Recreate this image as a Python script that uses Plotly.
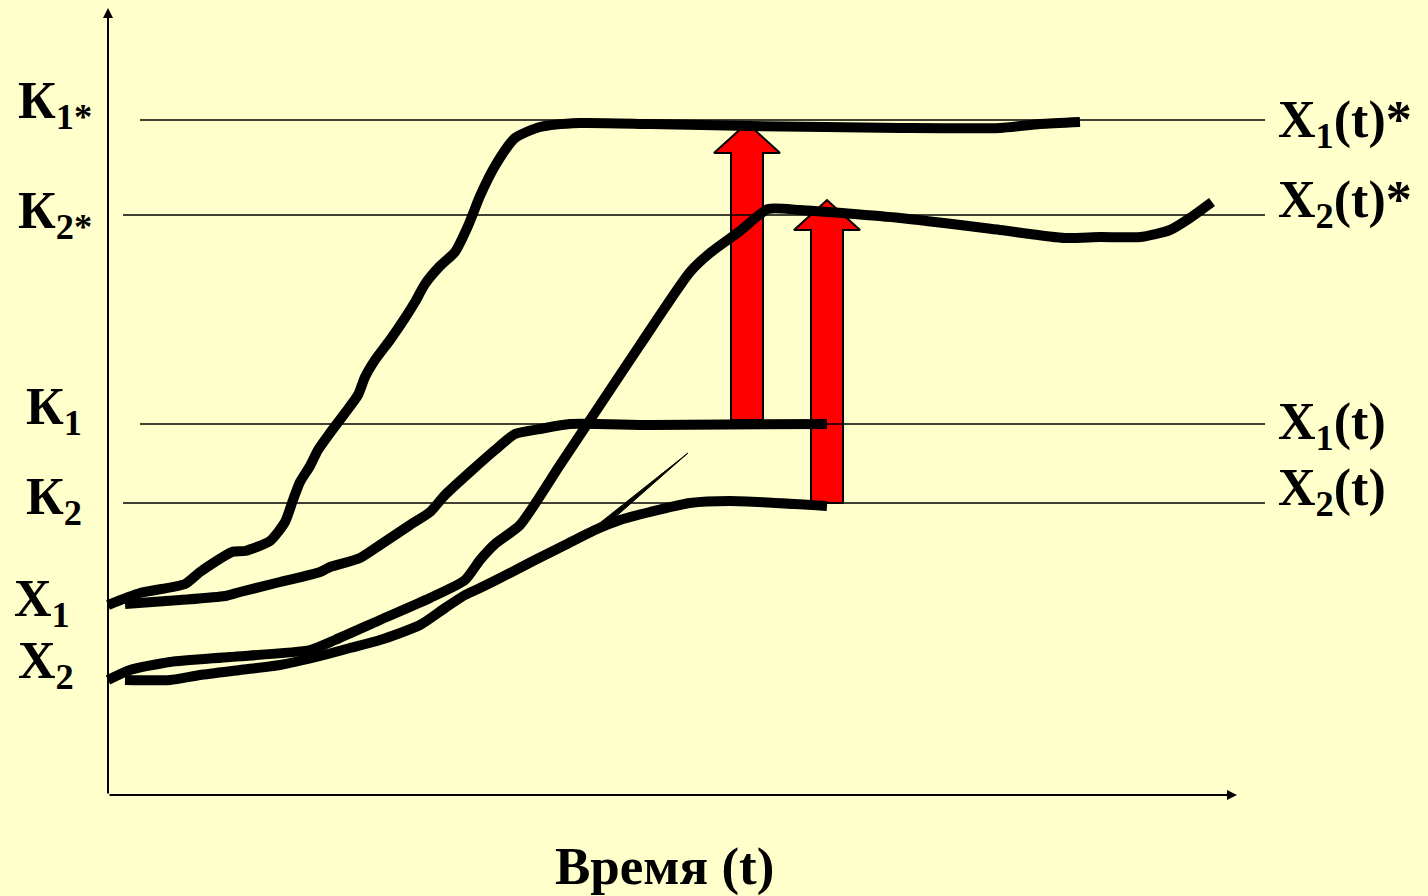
import plotly.graph_objects as go

# Coordinates in chart units (x: time, y: level; y axis reversed so 0 is top)
# Curve X1 -> X1(t)*
c1_x = [108, 140, 185, 200, 232, 245, 270, 285, 293, 300, 310, 318, 330, 345, 358, 365, 375, 390, 405, 415, 425, 440, 455, 468, 480, 495, 515, 540, 580, 650, 750, 900, 1000, 1040, 1080]
c1_y = [605, 593, 584, 572, 552, 551, 541, 522, 500, 482, 466, 450, 433, 413, 395, 377, 360, 340, 318, 302, 284, 266, 252, 226, 196, 166, 138, 127, 123, 124, 126, 128, 128, 124, 122]
# Curve X1 -> X1(t)
c2_x = [125, 180, 225, 240, 280, 320, 330, 360, 380, 410, 430, 445, 470, 495, 515, 540, 570, 650, 827]
c2_y = [604, 600, 596, 592, 582, 572, 567, 558, 545, 525, 512, 495, 472, 450, 434, 429, 424, 425, 424]
# Curve X2 -> X2(t)*
c3_x = [108, 130, 170, 230, 310, 335, 380, 430, 465, 480, 495, 520, 560, 600, 640, 690, 710, 740, 768, 800, 900, 1000, 1065, 1100, 1140, 1170, 1190, 1212]
c3_y = [680, 670, 662, 657, 650, 640, 620, 598, 580, 560, 544, 525, 465, 405, 345, 272, 253, 231, 209, 210, 218, 230, 238, 237, 237, 230, 218, 202]
# Curve X2 -> X2(t)
c4_x = [125, 170, 200, 240, 280, 320, 350, 380, 420, 445, 465, 480, 510, 535, 565, 595, 620, 650, 690, 730, 827]
c4_y = [680, 680, 675, 670, 665, 656, 648, 640, 625, 608, 595, 588, 573, 560, 545, 530, 520, 512, 503, 501, 506]
# Thin spike
spike_x = [596, 688, 612, 596]
spike_y = [526, 453, 520, 526]

# Reference levels
levels_y = [120, 215, 424, 503]
levels_x0 = [140, 123, 140, 123]
levels_x1 = [1265, 1265, 1265, 1265]
left_labels = ["К<sub>1*</sub>", "К<sub>2*</sub>", "К<sub>1</sub>", "К<sub>2</sub>", "X<sub>1</sub>", "X<sub>2</sub>"]
left_label_x = [16, 16, 24, 24, 12, 16]
left_label_y = [104, 214, 410, 500, 602, 664]
right_labels = ["X<sub>1</sub>(t)*", "X<sub>2</sub>(t)*", "X<sub>1</sub>(t)", "X<sub>2</sub>(t)"]
right_label_x = [1276, 1276, 1276, 1276]
right_label_y = [123, 203, 425, 491]

# Red arrows: centre x, base y, tip y
arrow_cx = [747, 827]
arrow_base = [420, 503]
arrow_tip = [123, 200]

x_title = "Время (t)"

BG = "#FFFFCC"
FONT = "Liberation Serif"

fig = go.Figure()

shaft_hw = 16
head_hw = 33
head_len = 30
for cx, b, t in zip(arrow_cx, arrow_base, arrow_tip):
    hy = t + head_len
    px = [cx - shaft_hw, cx - shaft_hw, cx - head_hw, cx, cx + head_hw, cx + shaft_hw, cx + shaft_hw, cx - shaft_hw]
    py = [b, hy, hy, t, hy, hy, b, b]
    fig.add_trace(go.Scatter(x=px, y=py, mode="lines", fill="toself", fillcolor="#FF0000",
                             line=dict(color="black", width=2), hoverinfo="skip"))

for ys, x0, x1 in zip(levels_y, levels_x0, levels_x1):
    fig.add_trace(go.Scatter(x=[x0, x1], y=[ys, ys], mode="lines",
                             line=dict(color="black", width=1.6), hoverinfo="skip"))

for xs, ys in [(c1_x, c1_y), (c2_x, c2_y), (c3_x, c3_y), (c4_x, c4_y)]:
    fig.add_trace(go.Scatter(x=xs, y=ys, mode="lines",
                             line=dict(color="black", width=10, shape="spline", smoothing=0.6),
                             hoverinfo="skip"))

fig.add_trace(go.Scatter(x=spike_x, y=spike_y, mode="lines", fill="toself",
                         fillcolor="black", line=dict(color="black", width=1), hoverinfo="skip"))

annotations = []
# axes with arrows
annotations.append(dict(x=108, y=8, ax=108, ay=795, xref="x", yref="y", axref="x", ayref="y",
                        showarrow=True, arrowhead=2, arrowsize=1, arrowwidth=2, arrowcolor="black", text=""))
annotations.append(dict(x=1237, y=795, ax=108, ay=795, xref="x", yref="y", axref="x", ayref="y",
                        showarrow=True, arrowhead=2, arrowsize=1, arrowwidth=2, arrowcolor="black", text=""))

for t, x, y in zip(left_labels, left_label_x, left_label_y):
    annotations.append(dict(x=x, y=y, xref="x", yref="y", text="<b>" + t + "</b>", showarrow=False,
                            xanchor="left", yanchor="middle", font=dict(family=FONT, size=52, color="black")))
for t, x, y in zip(right_labels, right_label_x, right_label_y):
    annotations.append(dict(x=x, y=y, xref="x", yref="y", text="<b>" + t + "</b>", showarrow=False,
                            xanchor="left", yanchor="middle", font=dict(family=FONT, size=52, color="black")))
annotations.append(dict(x=664, y=866, xref="x", yref="y", text="<b>" + x_title + "</b>", showarrow=False,
                        xanchor="center", yanchor="middle", font=dict(family=FONT, size=53, color="black")))

fig.update_layout(
    width=1428, height=896,
    margin=dict(l=0, r=0, t=0, b=0),
    paper_bgcolor=BG, plot_bgcolor=BG,
    showlegend=False,
    xaxis=dict(range=[0, 1428], visible=False, fixedrange=True),
    yaxis=dict(range=[896, 0], visible=False, fixedrange=True),
    annotations=annotations,
)

fig.write_html("out.html", config={"displayModeBar": False},
               post_script="document.body.style.margin='0';document.body.style.overflow='hidden';")
